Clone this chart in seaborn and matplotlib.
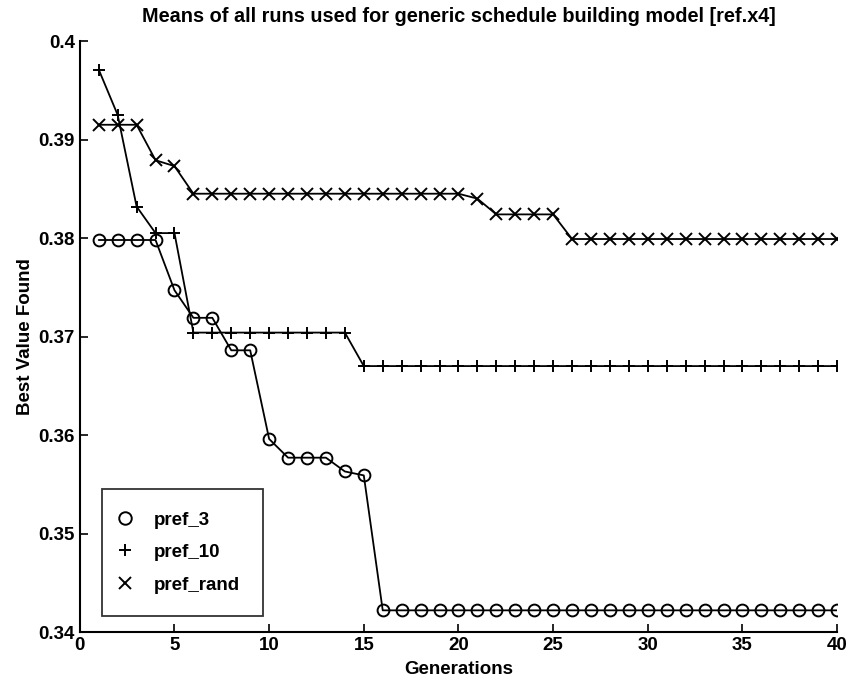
import numpy as np
import pandas as pd
import matplotlib
matplotlib.use("Agg")
import matplotlib.pyplot as plt
from matplotlib.lines import Line2D
import seaborn as sns

generations = list(range(1, 41))
pref_3 = [0.3798, 0.3798, 0.3798, 0.3798, 0.3747, 0.3719, 0.3719, 0.3686, 0.3686, 0.3596,
          0.3577, 0.3577, 0.3577, 0.3563, 0.3559] + [0.3422] * 25
pref_10 = [0.3971, 0.3925, 0.3832, 0.3805, 0.3805] + [0.3704] * 9 + [0.3670] * 26
pref_rand = [0.3915, 0.3915, 0.3915, 0.3879, 0.3873] + [0.3845] * 15 + [0.3840] + \
            [0.3824] * 4 + [0.3799] * 15
series_names = ["pref_3", "pref_10", "pref_rand"]
series_markers = {"pref_3": "o", "pref_10": "+", "pref_rand": "x"}

title = "Means of all runs used for generic schedule building model [ref.x4]"
xlabel = "Generations"
ylabel = "Best Value Found"
xticks = [0, 5, 10, 15, 20, 25, 30, 35, 40]
yticks = [0.34, 0.35, 0.36, 0.37, 0.38, 0.39, 0.40]
yticklabels = ["0.34", "0.35", "0.36", "0.37", "0.38", "0.39", "0.4"]

df = pd.DataFrame({
    "Generation": generations * 3,
    "value": pref_3 + pref_10 + pref_rand,
    "series": ["pref_3"] * 40 + ["pref_10"] * 40 + ["pref_rand"] * 40,
})

sns.set_theme(style="ticks")
plt.rcParams["font.family"] = ["Liberation Sans", "DejaVu Sans"]
plt.rcParams["font.weight"] = "bold"
plt.rcParams["text.color"] = "black"
plt.rcParams["axes.labelcolor"] = "black"

fig = plt.figure(figsize=(8.49, 6.84), dpi=100)
ax = fig.add_axes([0.094, 0.076, 0.892, 0.864])

for name in series_names:
    sub = df[df["series"] == name]
    m = series_markers[name]
    sns.lineplot(data=sub, x="Generation", y="value", ax=ax, color="black",
                 linewidth=1.3, marker=m, markersize=9 if m != "o" else 8.5,
                 markerfacecolor="none", markeredgecolor="black",
                 markeredgewidth=1.4, legend=False)

ax.set_xlim(0, 40)
ax.set_ylim(0.34, 0.40)
ax.set_xticks(xticks)
ax.set_xticklabels([str(t) for t in xticks])
ax.set_yticks(yticks)
ax.set_yticklabels(yticklabels)
ax.tick_params(direction="in", length=6, width=1.2, labelsize=13.5, colors="black")
for s in ["top", "right"]:
    ax.spines[s].set_visible(False)
for s in ["left", "bottom"]:
    ax.spines[s].set_linewidth(1.5)
    ax.spines[s].set_color("black")

ax.set_title(title, fontsize=14.3, fontweight="bold", pad=14, color="black")
ax.set_xlabel(xlabel, fontsize=13.5, fontweight="bold", labelpad=5)
ax.set_ylabel(ylabel, fontsize=13.5, fontweight="bold", labelpad=3)

handles = [Line2D([], [], linestyle="none", marker=series_markers[n], color="black",
                  markerfacecolor="none", markersize=9, markeredgewidth=1.4)
           for n in series_names]
leg = ax.legend(handles, series_names, loc="lower left", bbox_to_anchor=(0.029, 0.027),
                frameon=True, fancybox=False, edgecolor="black", fontsize=13.5,
                borderpad=1.2, labelspacing=0.82, handletextpad=1.5, handlelength=0.1,
                borderaxespad=0)
leg.get_frame().set_linewidth(1.3)

fig.canvas.draw()
bb = leg.get_frame().get_bbox()
leg.get_frame().set_width(bb.width + 8)

fig.savefig("out.png", dpi=100)
